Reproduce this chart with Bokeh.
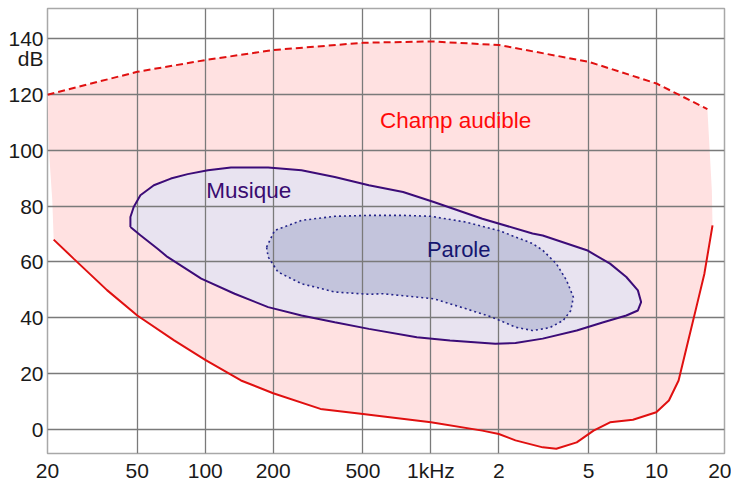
from bokeh.plotting import figure
from bokeh.models import FixedTicker, Range1d, Label
from bokeh.embed import file_html
from bokeh.resources import INLINE

# ---- data (frequency in Hz, level in dB) ----
x_ticks = [20, 50, 100, 200, 500, 1000, 2000, 5000, 10000, 20000]
x_labels = ["20", "50", "100", "200", "500", "1kHz", "2", "5", "10", "20"]
y_ticks = [0, 20, 40, 60, 80, 100, 120, 140]
y_labels = ["0", "20", "40", "60", "80", "100", "120", "140"]
unit_tick = 133
unit_label = "dB"

# threshold of pain (upper dashed boundary)
pain_f = [20, 50, 100, 200, 500, 1000, 2000, 5000, 10000, 16800]
pain_db = [120, 128.2, 132.4, 136, 138.6, 139.1, 137.8, 131.8, 124, 114.8]

# threshold of hearing (lower solid boundary)
hear_f = [21.3, 26.1, 36.7, 50, 72.8, 100, 144, 200, 324, 500, 1000, 1690, 2000,
          2370, 3130, 3594, 4428, 5257, 6220, 7860, 9970, 11340, 12520, 13820,
          15010, 16290, 17700]
hear_db = [68.0, 61.2, 49.9, 40.8, 31.9, 24.9, 17.5, 12.9, 7.3, 5.5, 2.5, -0.5, -1.7,
           -4.0, -6.5, -7.0, -4.7, -0.5, 2.5, 3.4, 6.1, 10.3, 17.5, 31.8,
           43.8, 55.8, 73.1]

# side edges of the audible field
right_edge_f = [17580]
right_edge_db = [85.6]
left_edge_f = [21.0, 20.3]
left_edge_db = [82, 100]

# music area
music_f = [46.6, 46.6, 48.2, 51.6, 59.2, 70.4, 83.6, 102.8, 130, 190, 267, 375, 531, 753,
           1030, 1690, 2820, 3130, 4912, 6220, 7345, 8264, 8540, 8264, 7345, 5814,
           4428, 3130, 2370, 1928, 1215, 866, 531, 375, 267, 190, 135, 96, 68, 61.3, 51.6]
music_db = [72.5, 76.1, 79.7, 83.9, 87.5, 89.9, 91.5, 92.9, 93.9, 93.9, 92.9, 90.5, 87.5, 85.1,
            81.5, 75.5, 70.2, 69.5, 64.2, 59.4, 54.6, 49.8, 45.6, 42.6, 40.8, 38.4,
            35.4, 32.5, 30.9, 30.7, 31.8, 33.0, 36.0, 38.4, 40.8, 43.8, 48.6, 54.0, 61.8, 64.8, 69.6]

# speech area
speech_f = [187, 203, 267, 376, 531, 753, 995, 1432, 1995, 2820, 3130, 3594, 3990, 4278,
            4170, 3855, 3356, 2820, 2370, 1866, 1432, 1030, 611, 531, 376, 267, 210, 190]
speech_db = [65.3, 71.3, 74.9, 76.4, 76.7, 76.7, 76.4, 74.3, 71.3, 66.6, 64.2, 59.4, 53.4, 47.4,
             42.6, 39.0, 36.4, 35.4, 36.6, 40.2, 43.2, 46.8, 48.6, 48.4, 49.2, 52.2, 56.4, 61.8]

FONT = "Liberation Sans"

p = figure(width=731, height=484, x_axis_type="log",
           x_range=Range1d(20, 20000), y_range=Range1d(-8.7, 150.9),
           output_backend="svg", toolbar_location=None,
           min_border_left=47, min_border_right=7, min_border_top=8, min_border_bottom=26)
p.background_fill_color = "white"
p.border_fill_color = "white"
p.outline_line_color = "#a8a8a8"
p.outline_line_width = 1.5

# audible field fill
field_f = pain_f + right_edge_f + hear_f[::-1] + left_edge_f
field_db = pain_db + right_edge_db + hear_db[::-1] + left_edge_db
p.patch(field_f, field_db, fill_color="#ffe1e1", line_color=None, level="image")
p.patch(music_f, music_db, fill_color="#e8e3f0", line_color=None, level="image")
p.patch(speech_f, speech_db, fill_color="#c3c4dc", line_color=None, level="image")

# grid
for g in (p.xgrid, p.ygrid):
    g.grid_line_color = "#7a7a7a"
    g.grid_line_width = 1.3
p.xgrid.ticker = FixedTicker(ticks=x_ticks)
p.ygrid.ticker = FixedTicker(ticks=y_ticks)

# boundary lines
p.line(pain_f, pain_db, line_color="#e01010", line_width=2, line_dash="7 4")
p.line(hear_f, hear_db, line_color="#e01010", line_width=2)
p.line(music_f + music_f[:1], music_db + music_db[:1], line_color="#3c0c78", line_width=2)
p.line(speech_f + speech_f[:1], speech_db + speech_db[:1], line_color="#24248a",
       line_width=1.6, line_dash="2 3")

# labels
p.add_layout(Label(x=595, y=110.9, text="Champ audible", text_color="#ff0a0a",
                   text_font=FONT, text_font_size="22.5px", text_baseline="alphabetic"))
p.add_layout(Label(x=101, y=85.7, text="Musique", text_color="#3a0c70",
                   text_font=FONT, text_font_size="22.5px", text_baseline="alphabetic"))
p.add_layout(Label(x=960, y=64.5, text="Parole", text_color="#161670",
                   text_font=FONT, text_font_size="22px", text_baseline="alphabetic"))

# axes
xa = p.xaxis[0]
xa.ticker = FixedTicker(ticks=x_ticks)
xa.major_label_overrides = dict(zip(x_ticks, x_labels))
ya = p.yaxis[0]
ya.ticker = FixedTicker(ticks=y_ticks + [unit_tick])
ovr = dict(zip(y_ticks, y_labels))
ovr[unit_tick] = unit_label
ya.major_label_overrides = ovr
for ax in (xa, ya):
    ax.axis_line_color = None
    ax.major_tick_line_color = None
    ax.minor_tick_line_color = None
    ax.major_tick_out = 0
    ax.major_tick_in = 0
    ax.major_label_text_font = FONT
    ax.major_label_text_font_size = "21px"
    ax.major_label_text_color = "#1a1a1a"
xa.major_label_standoff = 5
ya.major_label_standoff = 4

open("out.html", "w").write(file_html(p, INLINE))
